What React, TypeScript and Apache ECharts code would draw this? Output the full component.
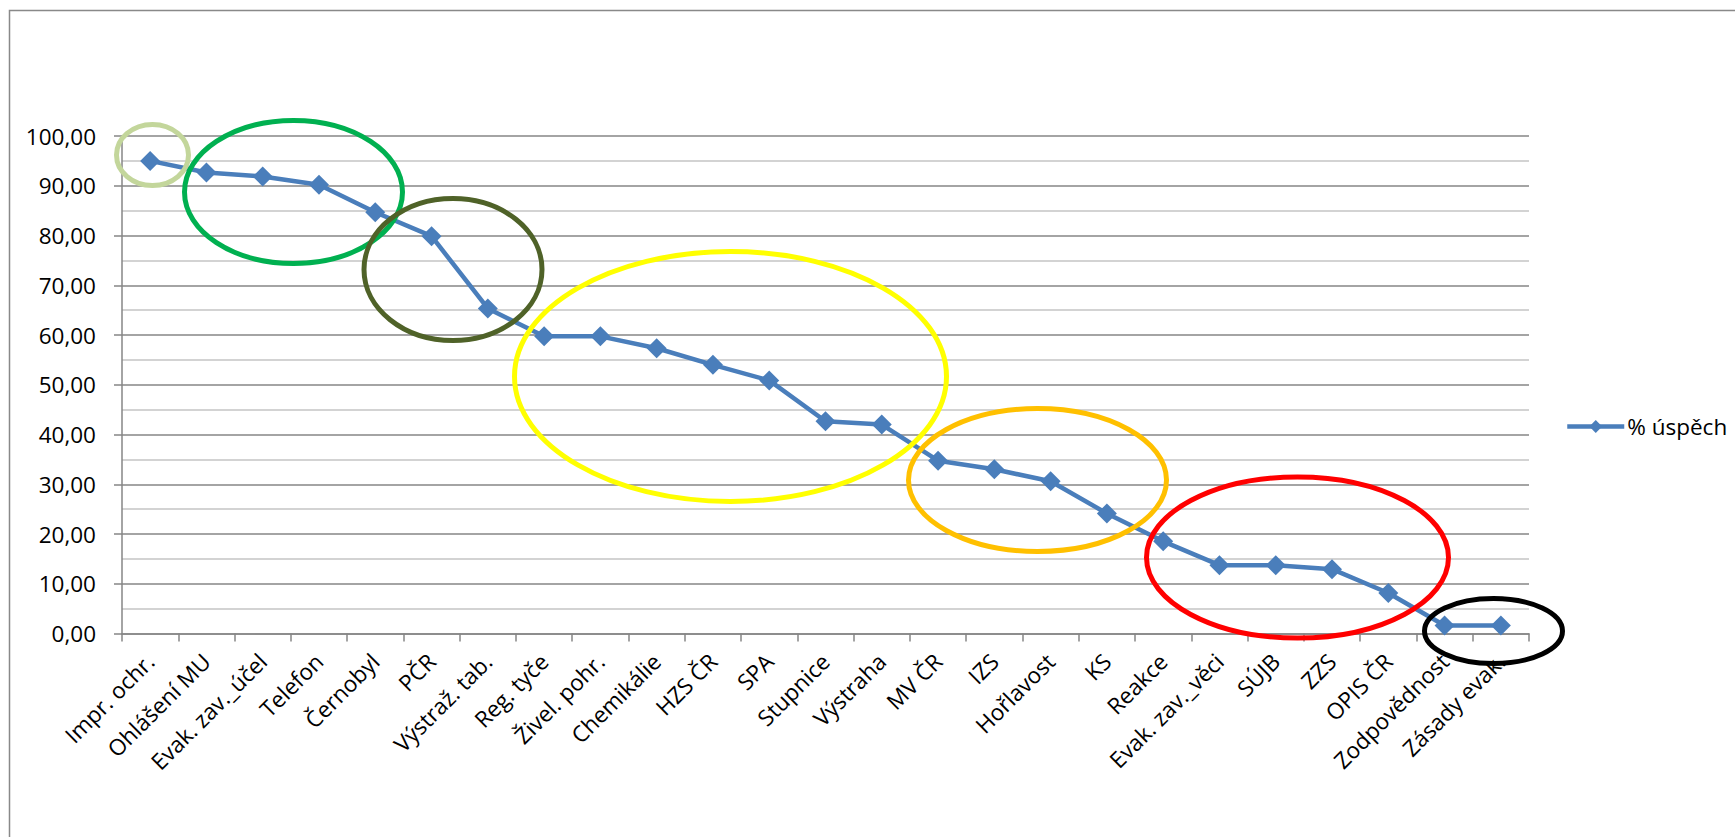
import React, { useEffect, useRef } from "react";
import * as echarts from "echarts";

const categories: string[] = [
  "Impr. ochr.",
  "Ohlášení MU",
  "Evak. zav._účel",
  "Telefon",
  "Černobyl",
  "PČR",
  "Výstraž. tab.",
  "Reg. tyče",
  "Živel. pohr.",
  "Chemikálie",
  "HZS ČR",
  "SPA",
  "Stupnice",
  "Výstraha",
  "MV ČR",
  "IZS",
  "Hořlavost",
  "KS",
  "Reakce",
  "Evak. zav._věci",
  "SÚJB",
  "ZZS",
  "OPIS ČR",
  "Zodpovědnost",
  "Zásady evak.",
];

const successPct: number[] = [
  95.0, 92.67, 91.87, 90.2, 84.67, 79.87, 65.33, 59.73, 59.73, 57.33, 54.0,
  50.87, 42.67, 42.0, 34.73, 33.0, 30.6, 24.13, 18.53, 13.73, 13.73, 12.93,
  8.13, 1.6, 1.6,
];

const seriesName = "% úspěch";

// annotation ellipses (pixel geometry of the hand-drawn highlight rings)
const ringColors: string[] = ["#c3d69b", "#00b050", "#4f6228", "#ffff00", "#ffc000", "#ff0000", "#000000"];
const ringShapes = [
  { cx: 152.5, cy: 155, rx: 36, ry: 30.5 },
  { cx: 293.5, cy: 192, rx: 109, ry: 71.5 },
  { cx: 453, cy: 269.5, rx: 89, ry: 71 },
  { cx: 730.5, cy: 376.5, rx: 216, ry: 125 },
  { cx: 1037.5, cy: 480, rx: 129, ry: 71.5 },
  { cx: 1297.5, cy: 557.5, rx: 151, ry: 80.5 },
  { cx: 1493.5, cy: 631, rx: 69, ry: 32.5 },
];

const FONT = "'Open Sans', 'Noto Sans', sans-serif";
const BLUE = "#4a7ebb";

export default function App() {
  const ref = useRef<HTMLDivElement>(null);

  useEffect(() => {
    if (!ref.current) return;
    const chart = echarts.init(ref.current, undefined, { renderer: "svg" });

    const rings = ringShapes.map((s, i) => ({
      type: "ellipse",
      shape: s,
      style: { fill: "none", stroke: ringColors[i], lineWidth: 5 },
      z: 100,
      silent: true,
    }));

    chart.setOption({
      animation: false,
      backgroundColor: "#ffffff",
      textStyle: { fontFamily: FONT, color: "#000" },
      grid: { left: 122, top: 136, width: 1407, height: 497.5, containLabel: false },
      legend: {
        show: true,
        orient: "vertical",
        left: 1560,
        top: 410,
        itemWidth: 57,
        itemHeight: 16,
        itemGap: 4,
        lineStyle: { width: 4.5, color: BLUE },
        itemStyle: { color: BLUE },
        textStyle: { fontFamily: FONT, fontSize: 22.5, color: "#000", padding: [0, 0, 0, -2] },
        data: [seriesName],
      },
      xAxis: {
        type: "category",
        data: categories,
        boundaryGap: true,
        axisLine: { show: true, lineStyle: { color: "#868686", width: 1.5 } },
        axisTick: { show: true, length: 8, interval: 0, lineStyle: { color: "#868686", width: 1.5 } },
        axisLabel: {
          interval: 0,
          rotate: 45,
          margin: 24,
          fontFamily: FONT,
          fontSize: 22.5,
          color: "#000",
        },
        splitLine: { show: false },
      },
      yAxis: {
        type: "value",
        min: 0,
        max: 100,
        interval: 10,
        axisLine: { show: true, lineStyle: { color: "#868686", width: 1.5 } },
        axisTick: { show: true, inside: false, length: 8, lineStyle: { color: "#868686", width: 1.5 } },
        axisLabel: {
          margin: 26,
          fontFamily: FONT,
          fontSize: 22.5,
          color: "#000",
          formatter: (v: number) => v.toFixed(2).replace(".", ","),
        },
        splitLine: { show: true, lineStyle: { color: "#868686", width: 1.5 } },
        minorTick: { show: false, splitNumber: 2 },
        minorSplitLine: { show: true, lineStyle: { color: "#c4c4c4", width: 1.5 } },
      },
      series: [
        {
          name: seriesName,
          type: "line",
          data: successPct,
          symbol: "diamond",
          symbolSize: 20,
          color: BLUE,
          lineStyle: { color: BLUE, width: 4.5 },
          itemStyle: { color: BLUE },
          z: 5,
        },
      ],
      graphic: [
        {
          type: "rect",
          shape: { x: 9.5, y: 10.5, width: 1800, height: 900 },
          style: { fill: "none", stroke: "#898989", lineWidth: 1.5 },
          silent: true,
          z: 0,
        },
        ...rings,
      ],
    });

    return () => {
      chart.dispose();
    };
  }, []);

  return (
    <div
      ref={ref}
      style={{ position: "fixed", left: 0, top: 0, width: 1735, height: 837, background: "#fff" }}
    />
  );
}
